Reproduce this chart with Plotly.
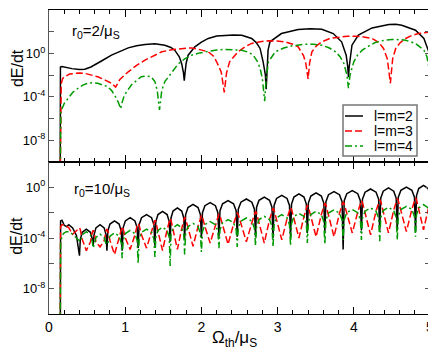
import plotly.graph_objects as go
from plotly.subplots import make_subplots

# ---------------- data (log10 of dE/dt) ----------------
# top panel, r0 = 2/mu_S
x_top_l2 = [0.147, 0.150, 0.17, 0.22, 0.30, 0.40, 0.47, 0.55, 0.60, 0.70, 0.82, 0.93, 1.04, 1.15, 1.26,
            1.39, 1.52, 1.60, 1.65, 1.71, 1.74, 1.765, 1.775, 1.785, 1.80, 1.826, 1.914, 2.00, 2.09, 2.20,
            2.31, 2.42, 2.53, 2.66, 2.72, 2.77, 2.81, 2.84, 2.85, 2.86, 2.875, 2.90, 3.05, 3.27, 3.43,
            3.58, 3.66, 3.73, 3.84, 3.90, 3.92, 3.93, 3.94, 3.96, 3.976, 4.06, 4.24, 4.46, 4.55, 4.63,
            4.81, 4.92, 4.984, 5.0]
y_top_l2 = [-12, -1.25, -1.2, -1.3, -1.4, -1.48, -1.45, -1.25, -1.07, -0.65, -0.16, 0.2, 0.51, 0.7, 0.83,
            0.88, 0.76, 0.55, 0.3, -0.31, -0.9, -1.8, -2.5, -1.8, -0.9, -0.16, 0.61, 1.05, 1.38, 1.6,
            1.68, 1.7, 1.68, 1.38, 1.0, 0.46, -0.77, -2.0, -3.3, -1.5, 0.3, 1.07, 1.83, 2.2, 2.28,
            2.23, 2.05, 1.83, 1.07, -0.16, -1.2, -2.2, -1.2, 0.0, 0.76, 1.68, 2.35, 2.66, 2.68, 2.6,
            2.14, 1.38, 0.15, -2.0]

x_top_l3 = [0.147, 0.150, 0.16, 0.18, 0.204, 0.27, 0.335, 0.40, 0.467, 0.55, 0.64, 0.75, 0.82, 0.875, 0.93,
            1.04, 1.15, 1.26, 1.37, 1.48, 1.63, 1.75, 1.87, 1.98, 2.09, 2.16, 2.20, 2.26, 2.30, 2.33,
            2.37, 2.48, 2.57, 2.66, 2.77, 2.88, 2.99, 3.10, 3.20, 3.27, 3.34, 3.37, 3.40, 3.42, 3.45,
            3.51, 3.58, 3.69, 3.80, 3.91, 4.02, 4.13, 4.24, 4.33, 4.39, 4.44, 4.48, 4.51, 4.55, 4.61,
            4.68, 4.76, 4.85, 5.0]
y_top_l3 = [-12, -3.9, -2.8, -2.3, -2.15, -1.9, -1.83, -1.8, -1.83, -1.95, -2.15, -2.5, -2.75, -3.1, -2.4,
            -1.69, -1.1, -0.61, -0.2, 0.15, 0.37, 0.47, 0.51, 0.35, 0.15, -0.25, -0.77, -1.7, -3.58, -1.8,
            -0.77, 0.15, 0.6, 0.92, 1.08, 1.16, 1.15, 1.07, 0.85, 0.61, -0.2, -0.9, -2.35, -0.9, 0.15,
            0.7, 1.07, 1.4, 1.52, 1.58, 1.59, 1.52, 1.38, 1.0, 0.46, -0.5, -2.75, -0.5, 0.46, 1.0,
            1.38, 1.65, 1.83, 1.98]

x_top_l4 = [0.147, 0.155, 0.20, 0.25, 0.31, 0.38, 0.45, 0.51, 0.58, 0.64, 0.72, 0.77, 0.82, 0.86, 0.91,
            0.94, 0.96, 0.99, 1.08, 1.15, 1.21, 1.28, 1.34, 1.39, 1.42, 1.45, 1.48, 1.52, 1.59, 1.69,
            1.78, 1.87, 1.98, 2.09, 2.20, 2.31, 2.42, 2.53, 2.62, 2.68, 2.74, 2.77, 2.80, 2.83, 2.85,
            2.88, 2.97, 3.08, 3.19, 3.30, 3.36, 3.47, 3.58, 3.68, 3.76, 3.82, 3.87, 3.91, 3.93, 3.95,
            4.00, 4.05, 4.11, 4.20, 4.28, 4.39, 4.50, 4.59, 4.68, 4.81, 4.92, 4.96, 4.98, 5.0]
y_top_l4 = [-12, -5.36, -4.6, -4.13, -3.6, -3.21, -2.9, -2.75, -2.7, -2.75, -2.9, -3.06, -3.4, -3.83, -4.5,
            -5.1, -4.5, -3.83, -2.91, -2.45, -2.15, -2.08, -2.15, -2.6, -3.4, -5.2, -3.4, -2.6, -1.99, -1.01,
            -0.5, -0.16, 0.05, 0.21, 0.32, 0.37, 0.36, 0.3, 0.1, -0.16, -0.8, -1.38, -2.3, -4.4, -2.3,
            -0.77, 0.15, 0.5, 0.7, 0.82, 0.85, 0.85, 0.76, 0.5, 0.15, -0.3, -0.92, -2.0, -3.21, -2.0,
            -0.77, -0.15, 0.3, 0.7, 1.0, 1.2, 1.28, 1.27, 1.22, 0.92, 0.3, -0.3, -0.92, -1.83]

# bottom panel, r0 = 10/mu_S (common abscissae)
x_bot = [0.148, 0.152, 0.17, 0.20, 0.23, 0.26, 0.31, 0.36,
         0.40, 0.411, 0.436, 0.49, 0.544, 0.569,
         0.58, 0.591, 0.616, 0.67, 0.724, 0.749,
         0.76, 0.772, 0.80, 0.86, 0.92, 0.948,
         0.96, 0.973, 1.002, 1.065, 1.128, 1.157,
         1.17, 1.183, 1.214, 1.28, 1.346, 1.377,
         1.39, 1.402, 1.43, 1.49, 1.55, 1.578,
         1.59, 1.601, 1.628, 1.685, 1.742, 1.769,
         1.78, 1.793, 1.824, 1.89, 1.956, 1.987,
         2.00, 2.014, 2.046, 2.115, 2.184, 2.216,
         2.23, 2.244, 2.278, 2.35, 2.422, 2.456,
         2.47, 2.484, 2.518, 2.59, 2.662, 2.696,
         2.71, 2.724, 2.756, 2.825, 2.894, 2.926,
         2.94, 2.954, 2.986, 3.055, 3.124, 3.156,
         3.17, 3.183, 3.214, 3.28, 3.346, 3.377,
         3.39, 3.404, 3.436, 3.505, 3.574, 3.606,
         3.62, 3.634, 3.668, 3.74, 3.812, 3.846,
         3.86, 3.874, 3.908, 3.98, 4.052, 4.086,
         4.10, 4.114, 4.148, 4.22, 4.292, 4.326,
         4.34, 4.354, 4.386, 4.455, 4.524, 4.556,
         4.57, 4.584, 4.618, 4.69, 4.762, 4.796,
         4.81, 4.823, 4.852, 4.915, 4.978, 5.0]

y_bot_l2 = [-12, -2.65, -2.6, -3.0, -3.1, -2.95, -3.2, -3.8,
            -5.4, -4.1, -3.55, -3.3, -3.55, -4.1,
            -4.6, -3.75, -3.2, -2.95, -3.2, -3.75,
            -5.0, -3.45, -2.9, -2.65, -2.9, -3.45,
            -5.0, -3.2, -2.65, -2.4, -2.65, -3.2,
            -4.8, -2.95, -2.4, -2.15, -2.4, -2.95,
            -4.6, -2.7, -2.15, -1.9, -2.15, -2.7,
            -4.3, -2.42, -1.87, -1.62, -1.87, -2.42,
            -4.1, -2.15, -1.6, -1.35, -1.6, -2.15,
            -4.0, -2.0, -1.45, -1.2, -1.45, -2.0,
            -3.9, -1.85, -1.3, -1.05, -1.3, -1.85,
            -3.9, -1.72, -1.17, -0.92, -1.17, -1.72,
            -3.9, -1.57, -1.02, -0.77, -1.02, -1.57,
            -4.0, -1.43, -0.88, -0.63, -0.88, -1.43,
            -3.9, -1.32, -0.77, -0.52, -0.77, -1.32,
            -3.6, -1.24, -0.69, -0.44, -0.69, -1.24,
            -3.5, -1.13, -0.58, -0.33, -0.58, -1.13,
            -4.9, -1.05, -0.5, -0.25, -0.5, -1.05,
            -3.4, -0.93, -0.38, -0.13, -0.38, -0.93,
            -3.4, -0.85, -0.3, -0.05, -0.3, -0.85,
            -3.4, -0.78, -0.23, 0.02, -0.23, -0.78,
            -3.5, -0.65, -0.1, 0.15, -0.1, -0.9]

y_bot_l3 = [-12, -3.1, -2.95, -2.95, -3.05, -3.2, -3.7, -3.4,
            -3.2, -3.35, -4.1, -5.0, -4.3, -3.55,
            -3.4, -3.55, -4.3, -4.7, -4.2, -3.45,
            -3.3, -3.45, -4.2, -5.3, -4.0, -3.25,
            -3.1, -3.25, -4.0, -4.9, -3.75, -3.0,
            -2.85, -3.0, -3.75, -4.8, -3.5, -2.75,
            -2.6, -2.75, -3.5, -5.0, -3.35, -2.6,
            -2.45, -2.6, -3.35, -4.9, -3.25, -2.5,
            -2.35, -2.5, -3.25, -4.65, -3.1, -2.35,
            -2.2, -2.35, -3.1, -4.4, -3.0, -2.25,
            -2.1, -2.25, -3.0, -4.5, -2.9, -2.15,
            -2.0, -2.15, -2.9, -4.3, -2.8, -2.05,
            -1.9, -2.05, -2.8, -4.4, -2.55, -1.8,
            -1.65, -1.8, -2.55, -4.15, -2.48, -1.73,
            -1.58, -1.73, -2.48, -4.0, -2.3, -1.55,
            -1.4, -1.55, -2.3, -3.9, -2.15, -1.4,
            -1.25, -1.4, -2.15, -3.9, -2.05, -1.3,
            -1.15, -1.3, -2.05, -3.6, -1.95, -1.2,
            -1.05, -1.2, -1.95, -3.75, -1.87, -1.12,
            -0.97, -1.12, -1.87, -3.6, -1.8, -1.05,
            -0.9, -1.05, -1.8, -3.5, -1.74, -0.99,
            -0.84, -0.99, -1.74, -3.35, -1.7, -1.0]

y_bot_l4 = [-12, -4.5, -3.8, -3.6, -3.5, -3.5, -3.7, -4.0,
            -4.3, -4.3, -3.75, -3.5, -3.75, -4.3,
            -4.8, -4.5, -3.95, -3.7, -3.95, -4.5,
            -4.5, -4.4, -3.85, -3.6, -3.85, -4.4,
            -5.6, -4.2, -3.65, -3.4, -3.65, -4.2,
            -6.0, -4.1, -3.55, -3.3, -3.55, -4.1,
            -5.5, -3.95, -3.4, -3.15, -3.4, -3.95,
            -6.2, -3.75, -3.2, -2.95, -3.2, -3.75,
            -5.3, -3.65, -3.1, -2.85, -3.1, -3.65,
            -5.1, -3.5, -2.95, -2.7, -2.95, -3.5,
            -4.8, -3.35, -2.8, -2.55, -2.8, -3.35,
            -4.7, -3.22, -2.67, -2.42, -2.67, -3.22,
            -4.6, -3.09, -2.54, -2.29, -2.54, -3.09,
            -4.7, -2.96, -2.41, -2.16, -2.41, -2.96,
            -4.6, -2.85, -2.3, -2.05, -2.3, -2.85,
            -4.4, -2.7, -2.15, -1.9, -2.15, -2.7,
            -4.5, -2.58, -2.03, -1.78, -2.03, -2.58,
            -4.15, -2.55, -2.0, -1.75, -2.0, -2.55,
            -4.15, -2.43, -1.88, -1.63, -1.88, -2.43,
            -4.25, -2.38, -1.83, -1.58, -1.83, -2.38,
            -4.15, -2.3, -1.75, -1.5, -1.75, -2.3,
            -3.9, -2.17, -1.62, -1.37, -1.62, -2.3]

series_names = ["l=m=2", "l=m=3", "l=m=4"]
x_ticks = [0, 1, 2, 3, 4, 5]
y_top_major = [-8, -4, 0, 4]
y_top_minor = [-10, -6, -2, 2]
y_bot_major = [-8, -4, 0]
y_bot_minor = [-10, -6, -2, 2]

# ---------------- figure ----------------
def tv(k):
    return 10.0 ** k

def ttext(ticks):
    return ["10<sup>%d</sup>" % k for k in ticks]

colors = ["black", "#ff0000", "#009a00"]
dashes = ["solid", "7px,3px", "7px,3px,2px,3px"]

fig = make_subplots(rows=2, cols=1, shared_xaxes=True, vertical_spacing=0)

top = [(x_top_l2, y_top_l2), (x_top_l3, y_top_l3), (x_top_l4, y_top_l4)]
bot = [y_bot_l2, y_bot_l3, y_bot_l4]
for i in range(3):
    xs, ys = top[i]
    fig.add_trace(go.Scatter(x=xs, y=[tv(v) for v in ys], mode="lines", name=series_names[i],
                             showlegend=False,
                             line=dict(color=colors[i], width=1.5, dash=dashes[i])), row=1, col=1)
for i in range(3):
    fig.add_trace(go.Scatter(x=x_bot, y=[tv(v) for v in bot[i]], mode="lines", name=series_names[i],
                             showlegend=False,
                             line=dict(color=colors[i], width=1.5, dash=dashes[i])), row=2, col=1)

font_family = "Liberation Sans, Arial, sans-serif"
xax = dict(range=[0, 5], tickvals=x_ticks, ticks="inside", ticklen=7, tickcolor="black",
           showline=True, linecolor="black", linewidth=1, mirror="ticks", showgrid=False, zeroline=False,
           minor=dict(dtick=0.2, ticks="inside", ticklen=4, tickcolor="black"),
           ticklabeloverflow="allow",
           tickfont=dict(size=14, color="black", family=font_family))
fig.update_xaxes(**xax)
fig.update_xaxes(showticklabels=False, row=1, col=1)

yax = dict(type="log", ticks="inside", ticklen=5, tickcolor="#555", showline=True, linecolor="#555",
           linewidth=1, mirror="ticks", showgrid=False, zeroline=False,
           tickfont=dict(size=13, color="black", family=font_family))
fig.update_yaxes(**yax)
fig.update_yaxes(range=[-10, 4], tickmode="array", tickvals=[tv(k) for k in y_top_major],
                 ticktext=ttext(y_top_major),
                 minor=dict(tickmode="array", tickvals=[tv(k) for k in y_top_minor], ticks="inside",
                            ticklen=5, tickcolor="#555"),
                 domain=[0.5, 1.0], row=1, col=1)
fig.update_yaxes(range=[-10, 2], tickmode="array", tickvals=[tv(k) for k in y_bot_major],
                 ticktext=ttext(y_bot_major),
                 minor=dict(tickmode="array", tickvals=[tv(k) for k in y_bot_minor], ticks="inside",
                            ticklen=5, tickcolor="#555"),
                 domain=[0.0, 0.5], row=2, col=1)

# legend box (drawn in paper coordinates inside the top panel)
leg_x0, leg_x1, leg_y0, leg_y1 = 0.7717, 0.9659, 0.5197, 0.6875
leg_rows = [0.6513, 0.6020, 0.5526]
shapes = [dict(type="rect", xref="paper", yref="paper", x0=leg_x0, x1=leg_x1, y0=leg_y0, y1=leg_y1,
               line=dict(color="#777", width=1.5), fillcolor="white", layer="above")]
for i in range(3):
    shapes.append(dict(type="line", xref="paper", yref="paper", x0=0.7769, x1=0.8241,
                       y0=leg_rows[i], y1=leg_rows[i], layer="above",
                       line=dict(color=colors[i], width=1.5, dash=dashes[i])))

ann_font = dict(size=14, color="black", family=font_family)
panel_font = dict(size=15, color="black", family=font_family)
title_font = dict(size=16, color="black", family=font_family)
xtitle_font = dict(size=17, color="black", family=font_family)
annotations = [
    dict(text="r<sub>0</sub>=2/μ<sub>S</sub>", xref="paper", yref="paper", x=0.055, y=0.928,
         xanchor="left", yanchor="middle", showarrow=False, font=panel_font),
    dict(text="r<sub>0</sub>=10/μ<sub>S</sub>", xref="paper", yref="paper", x=0.060, y=0.408,
         xanchor="left", yanchor="middle", showarrow=False, font=panel_font),
    dict(text="dE/dt", xref="paper", yref="paper", x=-0.084, y=0.809, textangle=-90,
         xanchor="center", yanchor="middle", showarrow=False, font=title_font),
    dict(text="dE/dt", xref="paper", yref="paper", x=-0.084, y=0.257, textangle=-90,
         xanchor="center", yanchor="middle", showarrow=False, font=title_font),
    dict(text="Ω<sub>th</sub>/μ<sub>S</sub>", xref="paper", yref="paper", x=0.486, y=-0.081,
         xanchor="center", yanchor="middle", showarrow=False, font=xtitle_font),
]
for i in range(3):
    annotations.append(dict(text=series_names[i], xref="paper", yref="paper", x=0.8478, y=leg_rows[i],
                            xanchor="left", yanchor="middle", showarrow=False, font=ann_font))

# the page places the figure 8 px in from the top-left corner, so the figure is 8 px smaller
fig.update_layout(
    width=428, height=347,
    margin=dict(l=41, r=6, t=2, b=41),
    paper_bgcolor="white", plot_bgcolor="white",
    showlegend=False,
    shapes=shapes,
    annotations=annotations,
)

fig.write_html("out.html")
